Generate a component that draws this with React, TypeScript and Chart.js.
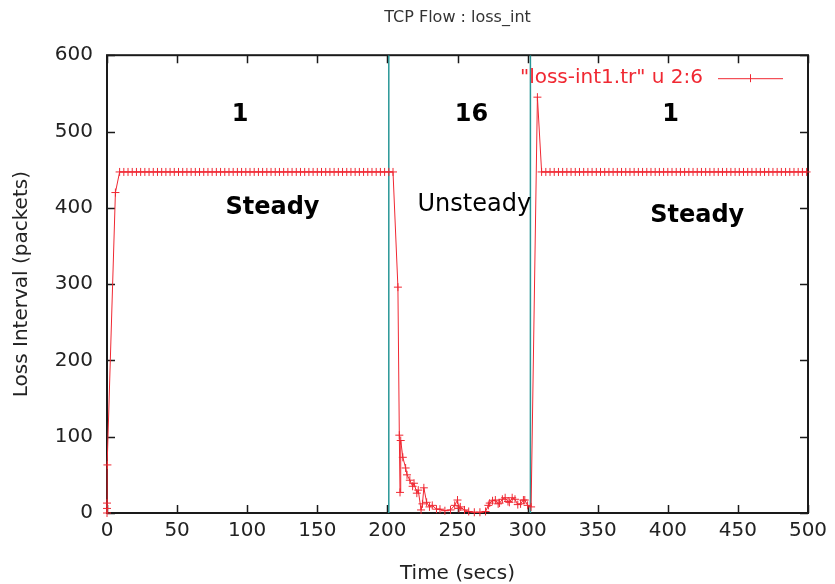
import React, { useEffect, useRef } from 'react';
import { Chart, registerables } from 'chart.js';

Chart.register(...registerables);

const chartTitle = 'TCP Flow : loss_int';
const xAxisTitle = 'Time (secs)';
const yAxisTitle = 'Loss Interval (packets)';
const seriesLabel = '"loss-int1.tr" u 2:6';

const xTicks = [0, 50, 100, 150, 200, 250, 300, 350, 400, 450, 500];
const yTicks = [0, 100, 200, 300, 400, 500, 600];

const phaseBoundaries = [201, 302];

// initial ramp
const rampTimes = [0, 0, 0, 0.3, 6];
const rampValues = [0, 13, 6, 63, 420];

// first steady phase
const steady1Times = [
  9, 12, 15, 18, 21, 24, 27, 30, 33, 36, 39, 42, 45, 48, 51, 54, 57, 60, 63, 66,
  69, 72, 75, 78, 81, 84, 87, 90, 93, 96, 99, 102, 105, 108, 111, 114, 117, 120,
  123, 126, 129, 132, 135, 138, 141, 144, 147, 150, 153, 156, 159, 162, 165, 168,
  171, 174, 177, 180, 183, 186, 189, 192, 195, 198, 201, 204,
];
const steady1Values = [
  447, 447, 447, 447, 447, 447, 447, 447, 447, 447, 447, 447, 447, 447, 447, 447, 447, 447, 447, 447,
  447, 447, 447, 447, 447, 447, 447, 447, 447, 447, 447, 447, 447, 447, 447, 447, 447, 447,
  447, 447, 447, 447, 447, 447, 447, 447, 447, 447, 447, 447, 447, 447, 447, 447,
  447, 447, 447, 447, 447, 447, 447, 447, 447, 447, 447, 447,
];

// unsteady phase
const transientTimes = [
  207.5, 208.5, 209, 209.5, 211, 213, 214, 216, 218, 219, 221, 222, 224, 225, 226,
  228, 230, 232, 235, 237.5, 241, 245, 248, 250, 251, 252, 255, 258, 262, 266,
  270, 272, 273, 275, 277, 279, 280, 282, 284, 286, 287, 289, 291, 293, 295,
  297, 298, 300, 302.5,
];
const transientValues = [
  296, 102, 27, 95, 73, 59, 50, 43, 35, 39, 26, 30, 4, 12, 33,
  14, 8, 10, 5, 5, 3, 4, 10, 17, 6, 8, 4, 2, 1, 1,
  2, 10, 13, 16, 17, 12, 13, 18, 20, 15, 14, 20, 18, 11, 12,
  17, 17, 10, 8,
];

// overshoot when returning to steady
const recoveryTimes = [307, 310];
const recoveryValues = [545, 447];

// second steady phase
const steady2Times = [
  313, 316, 319, 322, 325, 328, 331, 334, 337, 340, 343, 346, 349, 352, 355, 358,
  361, 364, 367, 370, 373, 376, 379, 382, 385, 388, 391, 394, 397, 400, 403, 406,
  409, 412, 415, 418, 421, 424, 427, 430, 433, 436, 439, 442, 445, 448, 451, 454,
  457, 460, 463, 466, 469, 472, 475, 478, 481, 484, 487, 490, 493, 496, 499,
];
const steady2Values = [
  447, 447, 447, 447, 447, 447, 447, 447, 447, 447, 447, 447, 447, 447, 447, 447,
  447, 447, 447, 447, 447, 447, 447, 447, 447, 447, 447, 447, 447, 447, 447, 447,
  447, 447, 447, 447, 447, 447, 447, 447, 447, 447, 447, 447, 447, 447, 447, 447,
  447, 447, 447, 447, 447, 447, 447, 447, 447, 447, 447, 447, 447, 447, 447,
];

// annotations (data coordinates)
const annotationTexts = ['1', '16', '1', 'Steady', 'Unsteady', 'Steady'];
const annotationX = [95, 260, 402, 118, 262, 421];
const annotationY = [522, 522, 522, 400, 404, 389];
const annotationBold = [true, true, true, true, false, true];

const FONT = "'DejaVu Sans', 'Liberation Sans', sans-serif";
const RED = 'rgb(240, 40, 50)';
const TEAL = 'rgb(40, 150, 150)';

const allTimes = [...rampTimes, ...steady1Times, ...transientTimes, ...recoveryTimes, ...steady2Times];
const allValues = [...rampValues, ...steady1Values, ...transientValues, ...recoveryValues, ...steady2Values];

const framePlugin = {
  id: 'gnuplotFrame',
  beforeDatasetsDraw(chart: any) {
    const { ctx, chartArea: a, scales } = chart;
    ctx.save();
    ctx.strokeStyle = '#1a1a1a';
    ctx.lineWidth = 1.5;
    ctx.beginPath();
    xTicks.forEach((v) => {
      const px = Math.round(scales.x.getPixelForValue(v)) + 0.5;
      ctx.moveTo(px, a.bottom);
      ctx.lineTo(px, a.bottom - 8);
      ctx.moveTo(px, a.top);
      ctx.lineTo(px, a.top + 8);
    });
    yTicks.forEach((v) => {
      const py = Math.round(scales.y.getPixelForValue(v)) + 0.5;
      ctx.moveTo(a.left, py);
      ctx.lineTo(a.left + 8, py);
      ctx.moveTo(a.right, py);
      ctx.lineTo(a.right - 8, py);
    });
    ctx.stroke();
    ctx.lineWidth = 2;
    ctx.strokeRect(a.left, a.top, a.right - a.left, a.bottom - a.top);
    ctx.restore();
  },
};

const textPlugin = {
  id: 'gnuplotText',
  afterDatasetsDraw(chart: any) {
    const { ctx, chartArea: a, scales } = chart;
    ctx.save();
    ctx.fillStyle = '#000';
    ctx.textAlign = 'center';
    ctx.textBaseline = 'middle';
    annotationTexts.forEach((t, i) => {
      ctx.font = `${annotationBold[i] ? 'bold ' : ''}24px ${FONT}`;
      ctx.fillText(t, scales.x.getPixelForValue(annotationX[i]), scales.y.getPixelForValue(annotationY[i]));
    });
    // legend
    const ly = a.top + 23;
    ctx.font = `20px ${FONT}`;
    ctx.fillStyle = RED;
    ctx.textAlign = 'right';
    ctx.fillText(seriesLabel, a.right - 105, ly);
    ctx.strokeStyle = RED;
    ctx.lineWidth = 1;
    ctx.beginPath();
    ctx.moveTo(a.right - 90, ly + 0.5);
    ctx.lineTo(a.right - 25, ly + 0.5);
    const cx = a.right - 57.5;
    ctx.moveTo(cx, ly - 4);
    ctx.lineTo(cx, ly + 4);
    ctx.stroke();
    ctx.restore();
  },
};

export default function App() {
  const canvasRef = useRef<HTMLCanvasElement | null>(null);

  useEffect(() => {
    if (!canvasRef.current) return;
    const points = allTimes.map((t, i) => ({ x: t, y: allValues[i] }));
    const boundaryDatasets = phaseBoundaries.map((b) => ({
      label: 'boundary',
      data: [
        { x: b, y: yTicks[0] },
        { x: b, y: yTicks[yTicks.length - 1] },
      ],
      borderColor: TEAL,
      borderWidth: 1.5,
      pointRadius: 0,
      showLine: true,
    }));
    const chart = new Chart(canvasRef.current, {
      type: 'scatter',
      data: {
        datasets: [
          {
            label: seriesLabel,
            data: points,
            showLine: true,
            borderColor: RED,
            backgroundColor: RED,
            borderWidth: 1,
            pointStyle: 'cross',
            pointRadius: 4,
            pointBorderWidth: 1,
            pointBorderColor: RED,
            clip: false as any,
          },
          ...boundaryDatasets,
        ],
      },
      options: {
        animation: false,
        responsive: true,
        maintainAspectRatio: false,
        layout: { padding: { top: 0, right: 27, left: 0, bottom: 0 } },
        plugins: {
          legend: { display: false },
          tooltip: { enabled: false },
          title: {
            display: true,
            text: chartTitle,
            fullSize: false,
            color: '#333',
            font: { family: FONT, size: 16, weight: 'normal' },
            padding: { top: 8, bottom: 28 },
          },
        },
        scales: {
          x: {
            type: 'linear',
            min: 0,
            max: 500,
            afterFit: (s: any) => {
              s.height = 71;
            },
            afterBuildTicks: (s: any) => {
              s.ticks = xTicks.map((v) => ({ value: v }));
            },
            grid: { display: false, drawTicks: false },
            border: { display: false },
            ticks: {
              color: '#222',
              padding: 6,
              maxRotation: 0,
              font: { family: FONT, size: 20 },
            },
            title: {
              display: true,
              text: xAxisTitle,
              color: '#222',
              font: { family: FONT, size: 20, lineHeight: 1 },
              padding: { top: 0, bottom: 0 },
            },
          },
          y: {
            type: 'linear',
            min: 0,
            max: 600,
            afterFit: (s: any) => {
              s.width = 107;
            },
            afterBuildTicks: (s: any) => {
              s.ticks = yTicks.map((v) => ({ value: v }));
            },
            grid: { display: false, drawTicks: false },
            border: { display: false },
            ticks: {
              color: '#222',
              padding: 14,
              font: { family: FONT, size: 20 },
            },
            title: {
              display: true,
              text: yAxisTitle,
              color: '#222',
              font: { family: FONT, size: 20, lineHeight: 1 },
              padding: { top: 12, bottom: 0 },
            },
          },
        },
      },
      plugins: [framePlugin, textPlugin],
    });
    return () => chart.destroy();
  }, []);

  return (
    <div style={{ position: 'fixed', left: 0, top: 0, width: 835, height: 584, background: '#fff' }}>
      <canvas ref={canvasRef} />
    </div>
  );
}
